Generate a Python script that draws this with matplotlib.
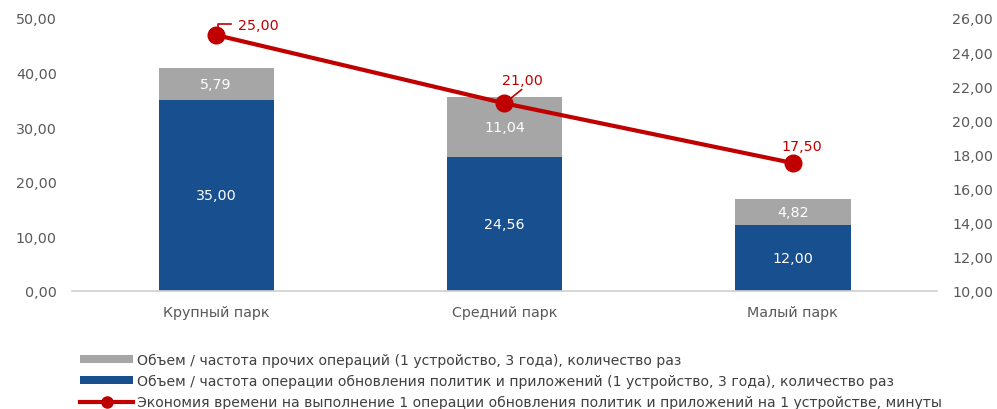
import matplotlib
matplotlib.use("Agg")
import matplotlib.pyplot as plt
from matplotlib.patches import Patch
from matplotlib.lines import Line2D

plt.rcParams['font.family'] = ['DejaVu Sans']

categories = ["Крупный парк", "Средний парк", "Малый парк"]
blue_vals = [35.00, 24.56, 12.00]
grey_vals = [5.79, 11.04, 4.82]
line_vals = [25.00, 21.00, 17.50]

legend_labels = [
    "Объем / частота прочих операций (1 устройство, 3 года), количество раз",
    "Объем / частота операции обновления политик и приложений (1 устройство, 3 года), количество раз",
    "Экономия времени на выполнение 1 операции обновления политик и приложений на 1 устройстве, минуты",
]

BLUE = "#174F8F"
GREY = "#A6A6A6"
RED = "#C00000"
TXT = "#595959"

def fmt(v):
    return f"{v:.2f}".replace(".", ",")

fig = plt.figure(figsize=(9.97, 4.10), dpi=100)
ax = fig.add_axes([72/997, 1-292/410, (937-72)/997, (292-19)/410])
ax2 = ax.twinx()

x = list(range(len(categories)))
w = 0.4
ax.bar(x, blue_vals, width=w, color=BLUE, zorder=2)
ax.bar(x, grey_vals, width=w, bottom=blue_vals, color=GREY, zorder=2)

for i in x:
    ax.text(i, blue_vals[i]/2, fmt(blue_vals[i]), ha='center', va='center',
            color='white', fontsize=10.3)
    ax.text(i, blue_vals[i] + grey_vals[i]/2, fmt(grey_vals[i]), ha='center', va='center',
            color='white', fontsize=10.3)

ax2.plot(x, line_vals, color=RED, lw=3, marker='o', ms=12, zorder=5)

# line labels with leader lines
ax2.annotate(fmt(line_vals[0]), xy=(x[0], line_vals[0]), xytext=(16, 7),
             textcoords='offset points', color=RED, fontsize=10.3, ha='left', va='center')
ax2.plot([x[0] + 0.006, x[0] + 0.006, x[0] + 0.05],
         [line_vals[0] + 0.42, line_vals[0] + 0.64, line_vals[0] + 0.64],
         color=RED, lw=1.2, zorder=6)
ax2.annotate(fmt(line_vals[1]), xy=(x[1], line_vals[1]), xytext=(13, 17),
             textcoords='offset points', color=RED, fontsize=10.3, ha='center', va='center')
ax2.plot([x[1] + 0.017, x[1] + 0.059], [line_vals[1] + 0.23, line_vals[1] + 0.80],
         color=RED, lw=1.2, zorder=6)
ax2.annotate(fmt(line_vals[2]), xy=(x[2], line_vals[2]), xytext=(6.5, 12),
             textcoords='offset points', color=RED, fontsize=10.3, ha='center', va='center')

ax.set_xlim(-0.5, 2.5)
ax.set_ylim(0, 50)
ax.set_yticks(range(0, 51, 10))
ax.set_yticklabels([fmt(v) for v in range(0, 51, 10)])
ax2.set_ylim(10, 26)
ax2.set_yticks(range(10, 27, 2))
ax2.set_yticklabels([fmt(v) for v in range(10, 27, 2)])
ax.set_xticks(x)
ax.set_xticklabels(categories)

for a in (ax, ax2):
    for s in a.spines.values():
        s.set_visible(False)
    a.tick_params(length=0, labelsize=10.3, labelcolor=TXT)
ax.spines['bottom'].set_visible(True)
ax.spines['bottom'].set_color("#D0D0D0")
ax.spines['bottom'].set_linewidth(1.2)
ax.tick_params(axis='y', pad=11)
ax2.tick_params(axis='y', pad=11)
ax.tick_params(axis='x', pad=10)

handles = [
    Patch(facecolor=GREY, edgecolor='none'),
    Patch(facecolor=BLUE, edgecolor='none'),
    Line2D([0], [0], color=RED, lw=3, marker='o', ms=8),
]
fig.legend(handles, legend_labels, loc='upper left', bbox_to_anchor=(80/997, 1-354/410),
           frameon=False, fontsize=10.05, labelcolor="#404040", handlelength=3.8,
           handleheight=0.45, handletextpad=0.3, labelspacing=0.5, borderaxespad=0, borderpad=0)

fig.savefig("out.png", dpi=100)
